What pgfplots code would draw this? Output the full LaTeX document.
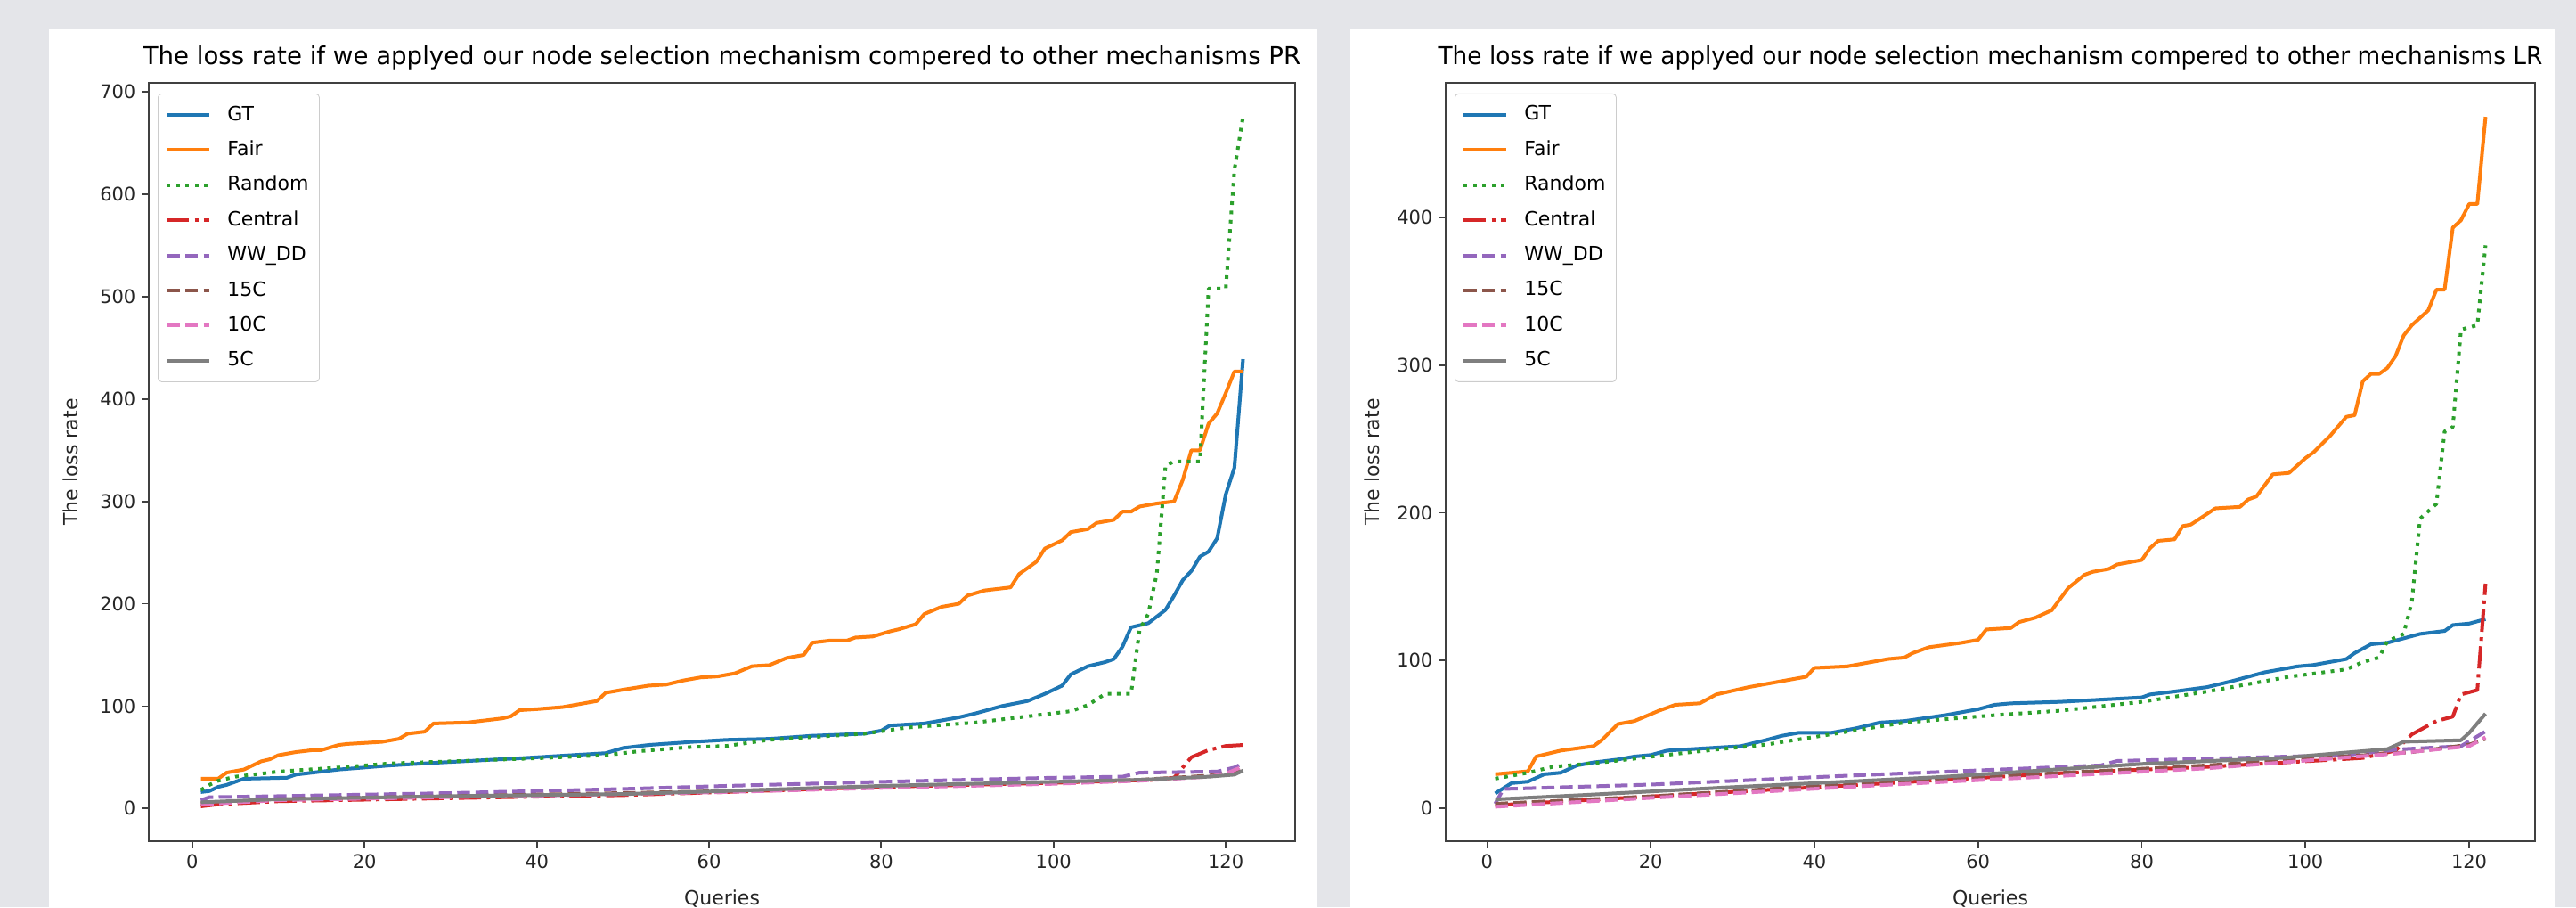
\documentclass[border=0pt]{standalone}
\usepackage{fontspec}
\setmainfont{DejaVu Sans}
\usepackage{graphicx}
\usepackage{pgfplots}
\pgfplotsset{compat=1.18}
\definecolor{bg}{RGB}{228,229,233}
\definecolor{tblue}{HTML}{1F77B4}
\definecolor{torange}{HTML}{FF7F0E}
\definecolor{tgreen}{HTML}{2CA02C}
\definecolor{tred}{HTML}{D62728}
\definecolor{tpurple}{HTML}{9467BD}
\definecolor{tbrown}{HTML}{8C564B}
\definecolor{tpink}{HTML}{E377C2}
\definecolor{tgray}{HTML}{7F7F7F}
\pgfplotsset{
  mystyle/.style={
    scale only axis, height=425.5pt,
    axis line style={black!75, line width=0.9pt},
    tick align=outside, major tick length=3.8pt,
    tick style={black!75, line width=0.9pt},
    tick pos=left,
    ticklabel style={font=\fontsize{10.5}{12}\selectfont, text=black!85},
    /pgf/number format/assume math mode=true,
    label style={font=\fontsize{11}{13}\selectfont, text=black!85},
    title style={font=\fontsize{13.8}{16}\selectfont, at={(0.5,1)}, anchor=base, yshift=4.3pt},
    xmin=-5.05, xmax=128.05, xtick={0,20,...,120},
    xlabel=Queries, ylabel=The loss rate,
    xlabel style={at={(axis description cs:0.5,0)}, anchor=north, yshift=-24pt},
    legend cell align=left,
    legend image code/.code={\draw[##1] (0pt,0pt) -- (24pt,0pt);},
    legend style={at={(0,1)}, anchor=north west, xshift=5pt, yshift=-6pt,
      draw=black!20, rounded corners=2pt, fill=white, fill opacity=0.8, text opacity=1,
      font=\fontsize{11}{13}\selectfont, inner xsep=4pt, inner ysep=4.6pt, row sep=5.3pt,
      nodes={inner sep=2pt, text height=8.2pt, text depth=2.2pt},
      /tikz/every odd column/.append style={column sep=7pt}},
    every axis plot/.append style={line width=2pt, line join=round},
  },
  sGT/.style={tblue},
  sFair/.style={torange},
  sRandom/.style={tgreen, dash pattern=on 2pt off 3.2pt},
  sCentral/.style={tred, dash pattern=on 12.5pt off 3.1pt on 2pt off 3.1pt},
  sWW/.style={tpurple, dash pattern=on 7.2pt off 3.1pt},
  s15/.style={tbrown, dash pattern=on 7.2pt off 3.1pt},
  s10/.style={tpink, dash pattern=on 7.2pt off 3.1pt},
  s5/.style={tgray},
}
\begin{document}
\begin{tikzpicture}
\clip (0,0) rectangle (1446pt,509pt);
\fill[bg] (0,0) rectangle (1446pt,509pt);
\fill[white] (27.5pt,0) rectangle (739.5pt,492.5pt);
\fill[white] (758pt,0) rectangle (1434pt,492.5pt);

% ---------------- Left: PR ----------------
\begin{axis}[mystyle, at={(83.5pt,37pt)}, anchor=south west, width=643.5pt,
  ymin=-32, ymax=709, ytick={0,100,...,700},
  ylabel style={at={(axis description cs:-0.0684,0.5)}, anchor=center},
  title={The loss rate if we applyed our node selection mechanism compered to other mechanisms PR}]
\addplot[sGT] coordinates {(1,16)(2,17)(3,21)(4,23)(5,26)(6,29)(11,30)(12,33)(17,38)(23,42)(29,45)(38,49)(42,51)(48,54)(50,59)(53,62)(58,65)(62,67)(67,68)(72,71)(78,73)(80,76)(81,81)(85,83)(89,89)(91,93)(94,100)(97,105)(99,112)(101,120)(102,131)(104,139)(106,143)(107,146)(108,158)(109,177)(111,181)(113,194)(114,208)(115,223)(116,232)(117,246)(118,251)(119,264)(120,307)(121,333)(122,439)};
\addlegendentry{GT}
\addplot[sFair] coordinates {(1,29)(3,29)(4,35)(6,38)(8,46)(9,48)(10,52)(12,55)(14,57)(15,57)(17,62)(18,63)(22,65)(24,68)(25,73)(27,75)(28,83)(32,84)(34,86)(36,88)(37,90)(38,96)(40,97)(43,99)(45,102)(47,105)(48,113)(50,116)(53,120)(55,121)(57,125)(59,128)(61,129)(63,132)(65,139)(67,140)(69,147)(71,150)(72,162)(74,164)(76,164)(77,167)(79,168)(81,173)(82,175)(84,180)(85,190)(87,197)(89,200)(90,208)(92,213)(95,216)(96,229)(98,241)(99,254)(101,262)(102,270)(104,273)(105,279)(107,282)(108,290)(109,290)(110,295)(112,298)(114,300)(115,321)(116,350)(117,350)(118,376)(119,386)(120,406)(121,427)(122,427)};
\addlegendentry{Fair}
\addplot[sRandom] coordinates {(1,18)(2,23)(3,27)(5,31)(10,36)(17,40)(23,44)(30,46)(40,49)(48,52)(52,56)(58,60)(62,61)(67,67)(78,73)(83,79)(91,84)(98,91)(102,95)(104,101)(106,112)(109,112)(110,175)(111,190)(112,230)(113,335)(114,339)(117,339)(118,508)(120,508)(121,624)(122,676)};
\addlegendentry{Random}
\addplot[sCentral] coordinates {(1,2)(3,4)(10,7)(30,10)(50,13)(62,16)(80,21)(100,25)(112,28)(114,30)(116,50)(118,57)(120,61)(122,62)};
\addlegendentry{Central}
\addplot[sWW] coordinates {(1,8)(2,11)(10,12)(30,15)(50,19)(62,22)(80,26)(100,30)(108,31)(110,35)(119,36)(121,40)(122,44)};
\addlegendentry{WW\_DD}
\addplot[s15] coordinates {(1,5)(10,9)(30,12)(50,15)(62,17)(80,21)(100,25)(110,28)(118,32)(120,34)(122,38)};
\addlegendentry{15C}
\addplot[s10] coordinates {(1,4)(10,8)(30,11)(50,14)(62,16)(80,20)(100,24)(110,27)(118,31)(120,34)(122,41)};
\addlegendentry{10C}
\addplot[s5] coordinates {(1,6)(10,9)(30,12)(50,14)(62,17)(80,22)(100,26)(110,28)(118,31)(121,33)(122,37)};
\addlegendentry{5C}
\end{axis}

% ---------------- Right: LR ----------------
\begin{axis}[mystyle, at={(811.5pt,37pt)}, anchor=south west, width=611.5pt,
  ymin=-22.3, ymax=491, ytick={0,100,...,400},
  ylabel style={at={(axis description cs:-0.0679,0.5)}, anchor=center},
  title={\scalebox{0.955}[1]{The loss rate if we applyed our node selection mechanism compered to other mechanisms LR}}]
\addplot[sGT] coordinates {(1,10)(3,17)(5,18)(7,23)(9,24)(11,29)(13,31)(16,33)(18,35)(20,36)(22,39)(28,41)(31,42)(34,46)(36,49)(38,51)(42,51)(45,54)(48,58)(51,59)(56,63)(60,67)(62,70)(64,71)(70,72)(80,75)(81,77)(84,79)(88,82)(91,86)(95,92)(99,96)(101,97)(105,101)(106,105)(108,111)(110,112)(114,118)(117,120)(118,124)(120,125)(122,128)};
\addlegendentry{GT}
\addplot[sFair] coordinates {(1,23)(5,25)(6,35)(9,39)(13,42)(14,46)(16,57)(18,59)(21,66)(23,70)(26,71)(28,77)(32,82)(36,86)(39,89)(40,95)(44,96)(47,99)(49,101)(51,102)(52,105)(54,109)(58,112)(60,114)(61,121)(64,122)(65,126)(67,129)(69,134)(71,149)(73,158)(74,160)(76,162)(77,165)(80,168)(81,176)(82,181)(84,182)(85,191)(86,192)(89,203)(92,204)(93,209)(94,211)(96,226)(98,227)(100,237)(101,241)(103,252)(105,265)(106,266)(107,289)(108,294)(109,294)(110,298)(111,306)(112,320)(113,327)(115,337)(116,351)(117,351)(118,393)(119,398)(120,409)(121,409)(122,468)};
\addlegendentry{Fair}
\addplot[sRandom] coordinates {(1,20)(5,24)(8,28)(14,31)(25,38)(34,43)(42,50)(51,58)(62,63)(70,66)(80,72)(88,79)(98,89)(105,94)(107,99)(109,102)(110,113)(112,118)(113,140)(114,196)(116,206)(117,255)(118,258)(119,324)(121,327)(122,381)};
\addlegendentry{Random}
\addplot[sCentral] coordinates {(1,2)(20,8)(46,16)(71,24)(88,28)(107,34)(111,39)(113,50)(116,59)(118,62)(119,77)(121,80)(122,152)};
\addlegendentry{Central}
\addplot[sWW] coordinates {(1,3)(2,13)(20,16)(44,22)(75,29)(77,32)(105,36)(112,40)(119,42)(122,52)};
\addlegendentry{WW\_DD}
\addplot[s15] coordinates {(1,3)(20,8)(46,17)(88,29)(113,38)(120,43)(122,47)};
\addlegendentry{15C}
\addplot[s10] coordinates {(1,1)(20,7)(46,15)(88,27)(111,37)(120,42)(122,48)};
\addlegendentry{10C}
\addplot[s5] coordinates {(1,6)(12,9)(29,14)(55,21)(80,30)(97,34)(110,40)(112,45)(119,46)(120,51)(122,64)};
\addlegendentry{5C}
\end{axis}
\end{tikzpicture}
\end{document}
